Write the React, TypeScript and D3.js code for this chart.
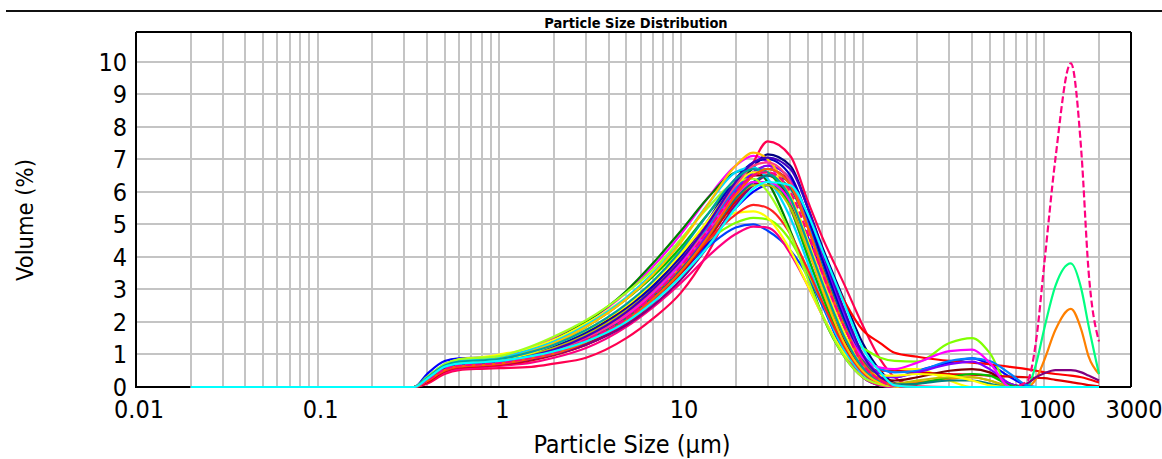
import React from "react";
import * as d3 from "d3";

// Particle size classes (µm) at which each measurement is sampled
const SIZES = [
  0.02, 0.34, 0.4, 0.5, 0.6, 0.8, 1, 1.5, 2, 3, 5, 7, 10, 14, 20, 25, 30, 40, 50, 60, 80, 100,
  125, 150, 200, 300, 400, 500, 650, 800, 900, 1000, 1150, 1400, 1600, 1750, 2000,
];

const X_TICKS = [0.01, 0.1, 1, 10, 100, 1000, 3000];
const Y_TICKS = [0, 1, 2, 3, 4, 5, 6, 7, 8, 9, 10];

const TITLE = "Particle Size Distribution";
const X_TITLE = "Particle Size (µm)";
const Y_TITLE = "Volume (%)";

// Volume (%) per size class, one array per measurement
const s01 = [0, 0, 0.3, 0.65, 0.8, 0.85, 0.9, 1.2, 1.5, 2.0, 2.9, 3.7, 4.7, 5.8, 6.8, 7.1, 6.9, 5.5, 4.0, 2.8, 1.2, 0.5, 0.15, 0.03, 0, 0, 0, 0, 0, 0, 0, 0, 0, 0, 0, 0, 0];
const s02 = [0, 0, 0.1, 0.4, 0.52, 0.56, 0.58, 0.62, 0.72, 0.9, 1.5, 2.1, 2.9, 4.1, 5.8, 6.9, 7.55, 7.1, 5.7, 4.6, 3.1, 1.9, 0.85, 0.3, 0.02, 0, 0, 0, 0, 0, 0, 0, 0, 0, 0, 0, 0];
const s03 = [0, 0, 0.2, 0.55, 0.7, 0.75, 0.78, 0.9, 1.05, 1.35, 1.95, 2.6, 3.5, 4.6, 6.0, 6.75, 7.15, 6.8, 5.5, 4.3, 2.6, 1.35, 0.5, 0.12, 0, 0, 0, 0, 0, 0, 0, 0, 0, 0, 0, 0, 0];
const s04 = [0, 0, 0.25, 0.6, 0.75, 0.8, 0.85, 1.15, 1.45, 2.0, 2.95, 3.8, 4.8, 5.8, 6.6, 6.7, 6.3, 4.8, 3.4, 2.2, 0.9, 0.3, 0.05, 0, 0, 0, 0, 0, 0, 0, 0, 0, 0, 0, 0, 0, 0];
const s05 = [0, 0, 0.4, 0.8, 0.88, 0.9, 0.92, 1.05, 1.2, 1.5, 2.1, 2.7, 3.5, 4.4, 5.5, 6.0, 6.2, 5.7, 4.6, 3.5, 1.8, 0.8, 0.35, 0.3, 0.5, 0.75, 0.88, 0.7, 0.3, 0.05, 0, 0, 0, 0, 0, 0, 0];
const s06 = [0, 0, 0.2, 0.5, 0.65, 0.7, 0.75, 0.95, 1.15, 1.5, 2.2, 2.8, 3.6, 4.3, 4.9, 5.0, 4.8, 4.2, 3.4, 2.5, 1.0, 0.3, 0.05, 0, 0, 0, 0, 0, 0, 0, 0, 0, 0, 0, 0, 0, 0];
const s07 = [0, 0, 0.15, 0.45, 0.55, 0.6, 0.65, 0.75, 0.9, 1.2, 1.85, 2.45, 3.2, 4.0, 4.7, 4.93, 4.9, 4.1, 3.1, 2.2, 0.95, 0.3, 0.05, 0, 0, 0, 0, 0, 0, 0, 0, 0, 0, 0, 0, 0, 0];
const s08 = [0, 0, 0.25, 0.6, 0.72, 0.78, 0.82, 1.05, 1.3, 1.7, 2.45, 3.05, 3.8, 4.5, 5.05, 5.2, 5.15, 4.5, 3.5, 2.6, 1.5, 1.2, 0.9, 0.8, 0.78, 1.35, 1.5, 1.05, 0, 0, 0, 0, 0, 0, 0, 0, 0];
const s09 = [0, 0, 0.3, 0.7, 0.85, 0.92, 1.0, 1.2, 1.45, 1.95, 2.75, 3.4, 4.2, 4.9, 5.35, 5.4, 5.2, 4.2, 3.1, 2.2, 1.0, 0.55, 0.5, 0.55, 0.55, 0.2, 0, 0, 0, 0, 0, 0, 0, 0, 0, 0, 0];
const s10 = [0, 0, 0.2, 0.55, 0.68, 0.72, 0.76, 0.95, 1.15, 1.55, 2.3, 3.0, 3.9, 4.9, 6.0, 6.5, 6.6, 5.8, 4.4, 3.2, 1.5, 0.6, 0.2, 0.05, 0, 0, 0, 0, 0, 0, 0, 0, 0, 0, 0, 0, 0];
const s11 = [0, 0, 0.2, 0.5, 0.62, 0.66, 0.7, 0.85, 1.0, 1.3, 1.95, 2.6, 3.5, 4.6, 5.9, 6.5, 6.7, 6.3, 5.2, 4.1, 2.6, 1.75, 1.35, 1.05, 0.93, 0.8, 0.75, 0.7, 0.62, 0.55, 0.5, 0.45, 0.4, 0.35, 0.3, 0.24, 0.14];
const s12 = [0, 0, 0.15, 0.48, 0.6, 0.64, 0.68, 0.82, 0.98, 1.3, 1.95, 2.6, 3.5, 4.5, 5.7, 6.2, 6.3, 5.6, 4.3, 3.1, 1.5, 0.7, 0.5, 0.5, 0.45, 0.4, 0.38, 0.35, 0.32, 0.3, 0.28, 0.27, 0.22, 0.15, 0.1, 0.06, 0.02];
const s13 = [0, 0, 0.2, 0.55, 0.66, 0.7, 0.74, 0.9, 1.05, 1.4, 2.1, 2.8, 3.7, 4.8, 6.0, 6.6, 6.8, 6.4, 5.1, 3.9, 2.1, 0.9, 0.3, 0.1, 0.15, 0.25, 0.3, 0.2, 0.02, 0, 0.25, 0.83, 1.75, 2.4, 1.75, 0.95, 0.4];
const s14 = [0, 0, 0.2, 0.55, 0.68, 0.72, 0.76, 0.95, 1.15, 1.5, 2.2, 2.9, 3.8, 4.8, 5.9, 6.3, 6.3, 5.6, 4.3, 3.1, 1.5, 0.6, 0.15, 0.02, 0, 0, 0, 0, 0, 0, 0.7, 1.8, 3.1, 3.8, 3.0, 1.9, 0.4];
const s15 = [0, 0, 0.2, 0.5, 0.62, 0.66, 0.7, 0.85, 1.0, 1.3, 1.9, 2.5, 3.3, 4.3, 5.6, 6.2, 6.5, 6.3, 5.2, 4.0, 2.2, 1.0, 0.35, 0.08, 0, 0, 0, 0, 0, 0.1, 0.3, 0.42, 0.52, 0.52, 0.45, 0.35, 0.2];
const s16 = [0, 0, 0.25, 0.6, 0.72, 0.78, 0.82, 1.0, 1.2, 1.65, 2.45, 3.1, 4.0, 5.0, 6.1, 6.5, 6.5, 5.7, 4.3, 3.0, 1.4, 0.55, 0.25, 0.2, 0.3, 0.5, 0.55, 0.45, 0.1, 0, 0, 0, 0, 0, 0, 0, 0];
const s17 = [0, 0, 0.2, 0.55, 0.66, 0.7, 0.74, 0.9, 1.05, 1.45, 2.1, 2.8, 3.7, 4.8, 6.0, 6.5, 6.6, 6.0, 4.7, 3.5, 1.8, 0.7, 0.2, 0.03, 0, 0, 0, 0, 0, 0.15, 1.4, 3.8, 7.0, 9.95, 7.2, 3.6, 1.4];
const s18 = [0, 0, 0.25, 0.6, 0.72, 0.76, 0.8, 0.98, 1.15, 1.5, 2.2, 2.9, 3.8, 4.9, 6.1, 6.6, 6.7, 6.2, 5.0, 3.8, 2.1, 1.0, 0.55, 0.45, 0.5, 0.8, 0.88, 0.8, 0.4, 0.05, 0, 0, 0, 0, 0, 0, 0];
const s19 = [0, 0, 0.2, 0.55, 0.66, 0.7, 0.74, 0.9, 1.05, 1.4, 2.0, 2.7, 3.6, 4.7, 6.0, 6.6, 6.8, 6.4, 5.2, 4.0, 2.2, 0.95, 0.4, 0.3, 0.45, 0.7, 0.78, 0.55, 0.1, 0, 0, 0, 0, 0, 0, 0, 0];
const s20 = [0, 0, 0.3, 0.65, 0.78, 0.82, 0.86, 1.1, 1.35, 1.85, 2.7, 3.4, 4.3, 5.3, 6.3, 6.7, 6.6, 5.5, 4.0, 2.8, 1.2, 0.45, 0.12, 0.05, 0.1, 0.3, 0.4, 0.35, 0.05, 0, 0, 0, 0, 0, 0, 0, 0];
const s21 = [0, 0, 0.25, 0.62, 0.75, 0.8, 0.84, 1.05, 1.25, 1.65, 2.4, 3.1, 4.0, 5.1, 6.4, 6.9, 7.0, 6.5, 5.2, 3.9, 2.0, 0.8, 0.25, 0.05, 0, 0, 0, 0, 0, 0, 0, 0, 0, 0, 0, 0, 0];
const s22 = [0, 0, 0.3, 0.7, 0.82, 0.86, 0.9, 1.15, 1.4, 1.9, 2.75, 3.5, 4.5, 5.6, 6.6, 6.75, 6.4, 5.2, 3.8, 2.6, 1.1, 0.4, 0.1, 0.02, 0, 0, 0, 0, 0, 0, 0, 0, 0, 0, 0, 0, 0];
const s23 = [0, 0, 0.2, 0.5, 0.62, 0.66, 0.7, 0.88, 1.05, 1.45, 2.15, 2.8, 3.6, 4.5, 5.3, 5.6, 5.5, 4.7, 3.6, 2.6, 1.2, 0.45, 0.1, 0.02, 0, 0, 0, 0, 0, 0, 0, 0, 0, 0, 0, 0, 0];
const s24 = [0, 0, 0.25, 0.6, 0.7, 0.75, 0.8, 1.0, 1.2, 1.6, 2.35, 3.0, 3.9, 4.8, 5.8, 6.2, 6.2, 5.5, 4.2, 3.1, 1.5, 0.6, 0.2, 0.1, 0.2, 0.3, 0.3, 0.2, 0, 0, 0, 0, 0, 0, 0, 0, 0];
const s25 = [0, 0, 0.2, 0.55, 0.66, 0.7, 0.74, 0.9, 1.08, 1.45, 2.1, 2.75, 3.6, 4.6, 5.8, 6.3, 6.5, 6.1, 4.9, 3.7, 1.9, 0.8, 0.25, 0.08, 0.1, 0.2, 0.2, 0.1, 0, 0, 0, 0, 0, 0, 0, 0, 0];
const s26 = [0, 0, 0.2, 0.55, 0.66, 0.7, 0.74, 0.92, 1.1, 1.5, 2.2, 2.9, 3.8, 4.8, 5.9, 6.3, 6.3, 5.7, 4.5, 3.4, 1.8, 0.9, 0.6, 0.55, 0.75, 1.1, 1.15, 0.75, 0, 0, 0, 0, 0, 0, 0, 0, 0];
const s27 = [0, 0, 0.3, 0.7, 0.85, 0.9, 0.95, 1.25, 1.55, 2.05, 2.9, 3.6, 4.55, 5.5, 6.3, 6.4, 6.0, 4.7, 3.3, 2.2, 0.9, 0.3, 0.08, 0.02, 0, 0, 0, 0, 0, 0, 0, 0, 0, 0, 0, 0, 0];
const s28 = [0, 0, 0.25, 0.62, 0.74, 0.8, 0.85, 1.05, 1.3, 1.75, 2.5, 3.2, 4.1, 5.1, 6.2, 6.6, 6.6, 5.9, 4.5, 3.3, 1.6, 0.65, 0.35, 0.35, 0.4, 0.35, 0.2, 0.05, 0, 0, 0, 0, 0, 0, 0, 0, 0];
const s29 = [0, 0, 0.25, 0.6, 0.74, 0.8, 0.85, 1.1, 1.35, 1.85, 2.7, 3.45, 4.45, 5.6, 6.8, 7.2, 7.0, 5.8, 4.3, 3.0, 1.3, 0.5, 0.12, 0.02, 0, 0, 0, 0, 0, 0, 0, 0, 0, 0, 0, 0, 0];
const s30 = [0, 0, 0.25, 0.62, 0.72, 0.76, 0.8, 0.95, 1.1, 1.4, 2.0, 2.6, 3.4, 4.3, 5.5, 6.1, 6.3, 6.2, 5.3, 4.2, 2.5, 1.2, 0.45, 0.05, 0, 0, 0, 0, 0, 0, 0, 0, 0, 0, 0, 0, 0];
const s31 = [0, 0, 0.2, 0.55, 0.68, 0.72, 0.76, 0.94, 1.12, 1.5, 2.25, 2.95, 3.9, 5.0, 6.2, 6.8, 6.9, 6.3, 4.9, 3.6, 1.8, 0.7, 0.2, 0.05, 0, 0, 0, 0, 0, 0, 0, 0, 0, 0, 0, 0, 0];
const s32 = [0, 0, 0.22, 0.58, 0.7, 0.74, 0.78, 0.96, 1.15, 1.55, 2.3, 3.0, 3.9, 5.0, 6.3, 6.9, 7.05, 6.7, 5.5, 4.2, 2.3, 1.0, 0.3, 0.06, 0, 0, 0, 0, 0, 0, 0, 0, 0, 0, 0, 0, 0];
const s33 = [0, 0, 0.28, 0.66, 0.78, 0.82, 0.86, 1.08, 1.3, 1.75, 2.55, 3.25, 4.2, 5.3, 6.4, 6.7, 6.6, 5.8, 4.4, 3.2, 1.5, 0.6, 0.18, 0.04, 0, 0, 0, 0, 0, 0, 0, 0, 0, 0, 0, 0, 0];
const s34 = [0, 0, 0.18, 0.52, 0.64, 0.68, 0.72, 0.88, 1.02, 1.38, 2.05, 2.7, 3.55, 4.6, 5.9, 6.5, 6.7, 6.2, 4.9, 3.6, 1.8, 0.75, 0.22, 0.05, 0, 0, 0, 0, 0, 0, 0, 0, 0, 0, 0, 0, 0];

// Drawing order: later entries are painted on top
const SERIES_VALUES = [
  s01, s02, s03, s04, s05, s06, s07, s08, s09, s10, s11, s12, s13, s14, s15, s16,
  s18, s19, s20, s21, s22, s23, s24, s25, s26, s27, s28, s29, s31, s32, s33, s34, s17, s30,
];
const SERIES_COLORS = [
  "#ff00ff", "#ff0050", "#000080", "#008000", "#0000ff", "#0040ff", "#ff0080", "#80ff00",
  "#ffff00", "#ff0000", "#ff0000", "#e00000", "#ff8000", "#00ff80", "#800080", "#800000",
  "#0080ff", "#8000ff", "#00c000", "#0000c0", "#00d8ff", "#ff2020", "#c0c000", "#008080",
  "#ff00ff", "#a0ff20", "#ffff00", "#ffc000", "#ff4080", "#4000c0", "#00a0a0", "#ff6000",
  "#ff0080", "#00ffff",
];
const SERIES_DASHED = [
  false, false, false, false, false, false, false, false, false, false, false, false,
  false, false, false, false, false, false, false, false, false, false, false, false,
  false, false, false, false, false, false, false, false, true, false,
];

const W = 1162;
const H = 459;
const PLOT = { left: 136, right: 1131, top: 32, bottom: 387 };
const FONT = "'DejaVu Sans Condensed', 'DejaVu Sans', Verdana, sans-serif";

export default function App() {
  const x = d3.scaleLog().domain([0.01, 3000]).range([PLOT.left, PLOT.right]);
  const y = d3.scaleLinear().domain([0, 10.91]).range([PLOT.bottom, PLOT.top]);

  const gridX = x.ticks().filter((v) => v > 0.01 * 1.001 && v < 3000 * 0.999);
  const gridY = Y_TICKS.filter((v) => v > 0);

  const line = d3
    .line<number>()
    .x((_, i) => x(SIZES[i]))
    .y((d) => y(d))
    .curve(d3.curveMonotoneX);

  return (
    <svg
      width={W}
      height={H}
      style={{ position: "absolute", left: 0, top: 0, display: "block", background: "#fff" }}
    >
      <line x1={6} x2={W} y1={11} y2={11} stroke="#111" strokeWidth={2} />
      <text
        x={636}
        y={28}
        textAnchor="middle"
        fontFamily={FONT}
        fontWeight="bold"
        fontSize={14.5}
        fill="#000"
      >
        {TITLE}
      </text>

      <g shapeRendering="crispEdges">
        {gridX.map((v) => (
          <line key={"gx" + v} x1={x(v)} x2={x(v)} y1={PLOT.top} y2={PLOT.bottom} stroke="#c4c4c4" strokeWidth={2} />
        ))}
        {gridY.map((v) => (
          <line key={"gy" + v} x1={PLOT.left} x2={PLOT.right} y1={y(v)} y2={y(v)} stroke="#c4c4c4" strokeWidth={2} />
        ))}
        <line x1={PLOT.left} x2={PLOT.right} y1={PLOT.top} y2={PLOT.top} stroke="#000" strokeWidth={2} />
        <line x1={PLOT.right} x2={PLOT.right} y1={PLOT.top} y2={PLOT.bottom} stroke="#000" strokeWidth={2} />
        <line x1={PLOT.left} x2={PLOT.left} y1={PLOT.top} y2={PLOT.bottom + 1} stroke="#000" strokeWidth={2} />
        <line x1={PLOT.left} x2={PLOT.right} y1={PLOT.bottom} y2={PLOT.bottom} stroke="#000" strokeWidth={2} />
      </g>

      <g fill="none" strokeWidth={2.2} strokeLinejoin="round">
        {SERIES_VALUES.map((vals, i) => (
          <path
            key={"s" + i}
            d={line(vals) || ""}
            stroke={SERIES_COLORS[i]}
            strokeDasharray={SERIES_DASHED[i] ? "7,3" : undefined}
          />
        ))}
      </g>

      <g fontFamily={FONT} fontSize={25} fill="#000">
        {Y_TICKS.map((v) => (
          <text key={"yt" + v} x={127} y={y(v) + 9} textAnchor="end">
            {v}
          </text>
        ))}
        {X_TICKS.map((v) => (
          <text key={"xt" + v} x={x(v) + 3} y={418} textAnchor="middle">
            {v}
          </text>
        ))}
        <text x={632} y={453} textAnchor="middle">
          {X_TITLE}
        </text>
        <text transform="translate(33,220) rotate(-90)" textAnchor="middle" fontSize={23.5}>
          {Y_TITLE}
        </text>
      </g>
    </svg>
  );
}
